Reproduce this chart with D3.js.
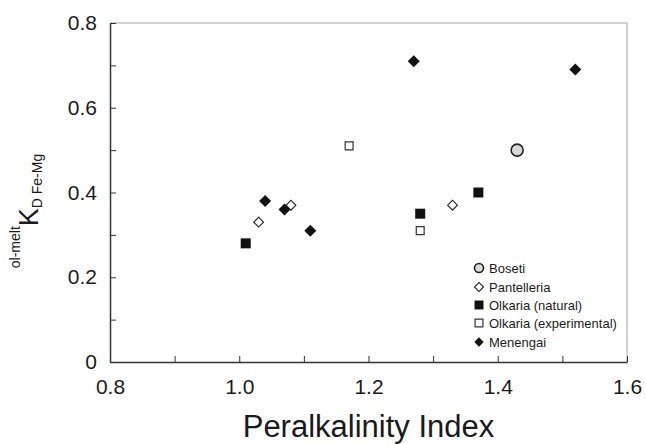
<!DOCTYPE html>
<html>
<head>
<meta charset="utf-8">
<script src="https://cdn.jsdelivr.net/npm/d3@7"></script>
<style>
  body { margin: 0; background: #fff; }
  text { font-family: Arial, "Liberation Sans", sans-serif; fill: #1a1a1a; }
</style>
</head>
<body>
<div id="chart"></div>
<script>
// series values: [peralkalinity index, KD]
var boseti = [[1.43, 0.50]];
var pantelleria = [[1.03, 0.33], [1.08, 0.37], [1.33, 0.37]];
var olkariaNatural = [[1.01, 0.28], [1.28, 0.35], [1.37, 0.40]];
var olkariaExperimental = [[1.17, 0.51], [1.28, 0.31]];
var menengai = [[1.04, 0.38], [1.07, 0.36], [1.11, 0.31], [1.27, 0.71], [1.52, 0.69]];

var seriesNames = ["Boseti", "Pantelleria", "Olkaria (natural)", "Olkaria (experimental)", "Menengai"];
var xTicks = [0.8, 0.9, 1.0, 1.1, 1.2, 1.3, 1.4, 1.5, 1.6];
var yTicks = [0, 0.1, 0.2, 0.3, 0.4, 0.5, 0.6, 0.7, 0.8];

var width = 646, height = 444;
var plotLeft = 110, plotRight = 627, plotTop = 23, plotBottom = 362;

var svg = d3.select("#chart").append("svg")
            .attr("width", width)
            .attr("height", height);

var xScale = d3.scaleLinear().domain([0.8, 1.6]).range([plotLeft, plotRight]);
var yScale = d3.scaleLinear().domain([0, 0.8]).range([plotBottom, plotTop]);

// marker styles per series
var styles = [
  { data: boseti, shape: d3.symbolCircle, size: 113, legendSize: 64, fill: "#d9d9d9", stroke: "#222", sw: 1.6, rot: 0 },
  { data: pantelleria, shape: d3.symbolSquare, size: 48, legendSize: 40, fill: "#fff", stroke: "#222", sw: 1.1, rot: 45 },
  { data: olkariaNatural, shape: d3.symbolSquare, size: 100, legendSize: 80, fill: "#111", stroke: "none", sw: 0, rot: 0 },
  { data: olkariaExperimental, shape: d3.symbolSquare, size: 62, legendSize: 62, fill: "#fff", stroke: "#333", sw: 1.2, rot: 0 },
  { data: menengai, shape: d3.symbolSquare, size: 72, legendSize: 44, fill: "#111", stroke: "none", sw: 0, rot: 45 }
];

// light frame top/right
svg.append("path")
   .attr("d", "M" + plotLeft + "," + plotTop + "H" + plotRight + "V" + plotBottom)
   .attr("fill", "none")
   .attr("stroke", "#c4c4c4")
   .attr("stroke-width", 1.5);

var fmt = d3.format(".1f");

var xAxis = d3.axisBottom(xScale)
              .tickValues(xTicks)
              .tickSizeInner(-6)
              .tickSizeOuter(0)
              .tickPadding(17)
              .tickFormat(function(d) { return Math.round(d * 10) % 2 === 0 ? fmt(d) : ""; });

var yAxis = d3.axisLeft(yScale)
              .tickValues(yTicks)
              .tickSizeInner(-6)
              .tickSizeOuter(0)
              .tickPadding(13)
              .tickFormat(function(d) {
                if (Math.round(d * 10) % 2 !== 0) return "";
                return d === 0 ? "0" : fmt(d);
              });

var gx = svg.append("g")
   .attr("class", "x_axis")
   .attr("transform", "translate(0," + plotBottom + ")")
   .call(xAxis);

var gy = svg.append("g")
   .attr("class", "y_axis")
   .attr("transform", "translate(" + plotLeft + ",0)")
   .call(yAxis);

[gx, gy].forEach(function(g) {
  g.select(".domain").attr("stroke", "#333").attr("stroke-width", 1.5);
  g.selectAll(".tick line").attr("stroke", "#333").attr("stroke-width", 1);
  g.selectAll(".tick text")
   .attr("fill", "#1a1a1a")
   .style("font-size", "21px")
   .style("font-family", "Arial, 'Liberation Sans', sans-serif");
});

// axis titles
svg.append("text")
   .attr("x", (plotLeft + plotRight) / 2)
   .attr("y", 437)
   .attr("text-anchor", "middle")
   .style("font-size", "31px")
   .text("Peralkalinity Index");

var ylab = svg.append("text")
   .attr("transform", "translate(38,211) rotate(-90)")
   .attr("text-anchor", "middle");
ylab.append("tspan").attr("dy", -18).style("font-size", "14px").text("ol-melt");
ylab.append("tspan").attr("dy", 18).style("font-size", "27px").text("K");
ylab.append("tspan").attr("dy", 4).style("font-size", "14px").text("D Fe-Mg");

// points, Menengai drawn first so open symbols sit on top
var order = [4, 3, 2, 1, 0];
order.forEach(function(i) {
  var s = styles[i];
  svg.append("g")
     .attr("class", "series")
     .selectAll("path")
     .data(s.data)
     .enter().append("path")
     .attr("d", d3.symbol().type(s.shape).size(s.size))
     .attr("transform", function(d) {
       return "translate(" + xScale(d[0]) + "," + yScale(d[1]) + ") rotate(" + s.rot + ")";
     })
     .attr("fill", s.fill)
     .attr("stroke", s.stroke)
     .attr("stroke-width", s.sw);
});

// legend
var legend = svg.append("g").attr("class", "legend");
var legendY = [268, 287, 305, 323, 342];
seriesNames.forEach(function(name, i) {
  var s = styles[i];
  legend.append("path")
        .attr("d", d3.symbol().type(s.shape).size(s.legendSize))
        .attr("transform", "translate(479," + legendY[i] + ") rotate(" + s.rot + ")")
        .attr("fill", s.fill)
        .attr("stroke", s.stroke)
        .attr("stroke-width", s.sw);
  legend.append("text")
        .attr("x", 489)
        .attr("y", legendY[i])
        .attr("dy", "0.36em")
        .style("font-size", "13px")
        .text(name);
});
</script>
</body>
</html>
